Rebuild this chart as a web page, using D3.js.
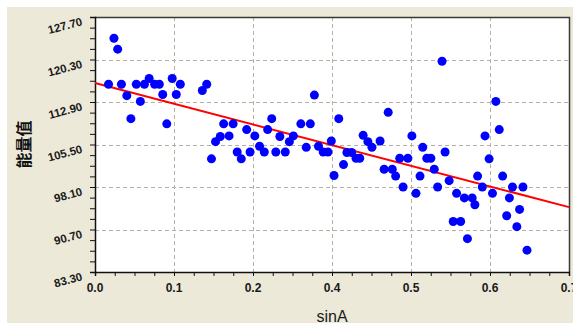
<!DOCTYPE html>
<html>
<head>
<meta charset="utf-8">
<script src="https://cdn.jsdelivr.net/npm/d3@7"></script>
<style>
  body { margin: 0; background: #fff; }
  svg { display: block; }
</style>
</head>
<body>
<svg id="chart" width="573" height="325"></svg>
<script>
// sinA values
const sinA = [
  0.028, 0.0335, 0.020, 0.039, 0.047, 0.053, 0.061, 0.067, 0.073, 0.080,
  0.088, 0.095, 0.100, 0.106, 0.114, 0.120, 0.126, 0.1585, 0.165, 0.172,
  0.178, 0.185, 0.190, 0.198, 0.204, 0.210, 0.216, 0.224, 0.229, 0.236,
  0.243, 0.250, 0.255, 0.261, 0.267, 0.273, 0.281, 0.287, 0.293, 0.304,
  0.312, 0.318, 0.324, 0.330, 0.337, 0.344, 0.349, 0.353,
  0.360, 0.367, 0.372, 0.379, 0.3855, 0.391, 0.396, 0.403, 0.409, 0.421,
  0.427, 0.433, 0.439, 0.444, 0.450, 0.455, 0.462, 0.468, 0.474, 0.480,
  0.484, 0.490, 0.496, 0.501, 0.506, 0.5125, 0.517, 0.523, 0.529, 0.534,
  0.540, 0.5455, 0.550, 0.557, 0.561, 0.565, 0.572, 0.576, 0.582, 0.587,
  0.592, 0.597, 0.602, 0.608, 0.612, 0.6165, 0.623, 0.627, 0.632, 0.638
];
// 能量值 values
const energy = [
  124.0, 122.1, 116.0, 116.0, 114.0, 110.0, 116.0, 113.0, 116.0, 117.0,
  116.0, 116.0, 114.2, 109.1, 117.0, 114.2, 116.0, 114.9, 116.0, 103.0,
  106.0, 106.9, 109.1, 107.0, 109.1, 104.2, 103.0, 108.1, 104.2, 107.0,
  105.2, 104.2, 108.1, 110.0, 104.2, 106.9, 104.2, 106.0, 107.0, 109.1,
  105.0, 109.1, 114.1, 105.2, 104.2, 104.2, 106.1, 100.1,
  110.0, 102.0, 104.1, 104.1, 103.1, 103.1, 107.1, 106.0, 105.0, 106.1,
  101.2, 111.1, 101.2, 100.0, 103.1, 98.1, 103.1, 107.0, 97.0, 100.0,
  105.0, 103.1, 103.1, 101.2, 98.1, 120.0, 104.2, 99.2, 92.1, 97.0,
  92.1, 96.2, 89.1, 96.2, 95.0, 100.0, 98.1, 107.0, 103.0, 97.0,
  113.0, 108.1, 100.0, 93.1, 96.2, 98.1, 91.2, 94.2, 98.1, 87.1
];
// fitted line
const fitX = [0, 0.7];
const fitY = [116.2, 94.6];

const xTickLabels = ["0.0", "0.1", "0.2", "0.4", "0.5", "0.6", "0.7"];
const yTickLabels = ["83.30", "90.70", "98.10", "105.50", "112.90", "120.30", "127.70"];

const svg = d3.select("#chart");
const pL = 95, pR = 569, pT = 17, pB = 272;

// beige panel
svg.append("rect")
  .attr("x", 7).attr("y", 7)
  .attr("width", 566).attr("height", 316)
  .attr("fill", "#ece9d8");

svg.append("rect")
  .attr("x", pL).attr("y", pT)
  .attr("width", pR - pL).attr("height", pB - pT)
  .attr("fill", "#fff");

const x = d3.scaleLinear().domain([0, 0.7]).range([pL, pR]);
const y = d3.scaleLinear().domain([83.3, 127.7]).range([pB, pT]);

const xMajor = d3.range(7).map(i => i * 0.7 / 6);
const yMajor = d3.range(7).map(i => 83.3 + i * 7.4);
const xMinor = d3.range(25).map(i => i * 0.7 / 24);
const yMinor = d3.range(25).map(i => 83.3 + i * 7.4 / 4);

// grid
const grid = svg.append("g")
  .attr("stroke", "#b5b1a5")
  .attr("stroke-dasharray", "4,3")
  .attr("stroke-width", 1);
grid.selectAll("line.gx")
  .data(xMajor.slice(1, -1))
  .enter().append("line")
  .attr("x1", d => Math.round(x(d)) + 0.5).attr("x2", d => Math.round(x(d)) + 0.5)
  .attr("y1", pT).attr("y2", pB);
grid.selectAll("line.gy")
  .data(yMajor.slice(1, -1))
  .enter().append("line")
  .attr("y1", d => Math.round(y(d)) + 0.5).attr("y2", d => Math.round(y(d)) + 0.5)
  .attr("x1", pL).attr("x2", pR);

// frame top / right
svg.append("path")
  .attr("d", `M${pL},${pT + 0.5}H${pR + 0.5}V${pB}`)
  .attr("fill", "none")
  .attr("stroke", "#3a3a3a")
  .attr("stroke-width", 1.5);

// axes
const xAxis = svg.append("g")
  .attr("transform", `translate(0,${pB})`)
  .call(d3.axisBottom(x).tickValues(xMinor).tickSize(4).tickFormat(""));
const yAxis = svg.append("g")
  .attr("transform", `translate(${pL},0)`)
  .call(d3.axisLeft(y).tickValues(yMinor).tickSize(5).tickFormat(""));
[xAxis, yAxis].forEach(g => {
  g.select(".domain").attr("stroke", "#111").attr("stroke-width", 1.5);
  g.selectAll(".tick line").attr("stroke", "#111");
});

svg.append("g").selectAll("text")
  .data(xMajor)
  .enter().append("text")
  .attr("x", d => x(d))
  .attr("y", 292)
  .attr("text-anchor", "middle")
  .attr("font-family", "Liberation Sans, Arial, sans-serif")
  .attr("font-weight", "bold")
  .attr("font-size", 12)
  .attr("fill", "#1a1a1a")
  .text((d, i) => xTickLabels[i]);

svg.append("g").selectAll("text")
  .data(yMajor)
  .enter().append("text")
  .attr("transform", d => `translate(83,${y(d) + 8}) rotate(-15)`)
  .attr("text-anchor", "end")
  .attr("font-family", "Liberation Sans, Arial, sans-serif")
  .attr("font-weight", "bold")
  .attr("font-size", 11.5)
  .attr("fill", "#1a1a1a")
  .text((d, i) => yTickLabels[i]);

// titles
svg.append("text")
  .attr("x", (pL + pR) / 2)
  .attr("y", 322)
  .attr("text-anchor", "middle")
  .attr("font-family", "Liberation Sans, Arial, sans-serif")
  .attr("font-size", 16)
  .attr("fill", "#1a1a1a")
  .text("sinA");

svg.append("text")
  .attr("transform", `translate(30,${(pT + pB) / 2}) rotate(-90)`)
  .attr("text-anchor", "middle")
  .attr("font-family", "Noto Sans CJK SC, sans-serif")
  .attr("font-weight", "bold")
  .attr("font-size", 16)
  .attr("fill", "#111")
  .text("能量值");

// fit line
const fit = fitX.map((d, i) => [d, fitY[i]]);
svg.append("path")
  .datum(fit)
  .attr("fill", "none")
  .attr("stroke", "#ff0000")
  .attr("stroke-width", 2)
  .attr("d", d3.line().x(d => x(d[0])).y(d => y(d[1])));

// points
const pts = sinA.map((d, i) => ({ x: d, y: energy[i] }));
svg.append("g").selectAll("circle")
  .data(pts)
  .enter().append("circle")
  .attr("cx", d => x(d.x))
  .attr("cy", d => y(d.y))
  .attr("r", 4.5)
  .attr("fill", "#0000ff");
</script>
</body>
</html>
